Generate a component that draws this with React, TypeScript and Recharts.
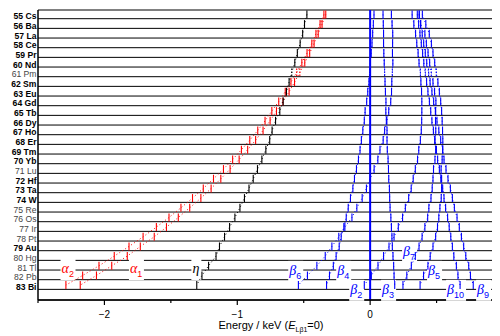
import React from 'react';
import {
  ScatterChart, Scatter, XAxis, YAxis, CartesianGrid,
  ReferenceLine, ReferenceDot,
} from 'recharts';

// 元素 (Z = 55 .. 83)
const zList = [55, 56, 57, 58, 59, 60, 61, 62, 63, 64, 65, 66, 67, 68, 69, 70, 71, 72, 73, 74, 75, 76, 77, 78, 79, 80, 81, 82, 83];
const symbols = ['Cs', 'Ba', 'La', 'Ce', 'Pr', 'Nd', 'Pm', 'Sm', 'Eu', 'Gd', 'Tb', 'Dy', 'Ho', 'Er', 'Tm', 'Yb', 'Lu', 'Hf', 'Ta', 'W', 'Re', 'Os', 'Ir', 'Pt', 'Au', 'Hg', 'Tl', 'Pb', 'Bi'];
const lightZ = [61, 71, 75, 76, 77, 78, 80, 81, 82]; // 細字のラベル

// 各ラインのエネルギー (keV, Lβ1 = 0), Cs -> Bi
const la2 = [-0.348, -0.377, -0.408, -0.439, -0.475, -0.514, -0.553, -0.596, -0.639, -0.688, -0.740, -0.791, -0.846, -0.906, -0.969, -1.035, -1.104, -1.179, -1.256, -1.337, -1.424, -1.514, -1.609, -1.709, -1.815, -1.926, -2.041, -2.164, -2.290];
const la1 = [-0.334, -0.362, -0.391, -0.422, -0.455, -0.492, -0.529, -0.569, -0.610, -0.656, -0.705, -0.753, -0.806, -0.862, -0.922, -0.986, -1.054, -1.124, -1.197, -1.274, -1.358, -1.444, -1.533, -1.625, -1.730, -1.828, -1.945, -2.060, -2.182];
const leta = [-0.476, -0.494, -0.508, -0.527, -0.548, -0.567, -0.590, -0.610, -0.630, -0.655, -0.680, -0.712, -0.738, -0.756, -0.785, -0.815, -0.848, -0.880, -0.912, -0.946, -0.980, -1.018, -1.058, -1.096, -1.134, -1.160, -1.216, -1.266, -1.305];
const lb6 = [0.160, 0.165, 0.170, 0.169, 0.168, 0.171, 0.167, 0.163, 0.161, 0.155, 0.140, 0.126, 0.109, 0.098, 0.074, 0.058, 0.030, 0.000, -0.028, -0.060, -0.100, -0.137, -0.190, -0.236, -0.288, -0.338, -0.401, -0.472, -0.540];
const lb4 = [0.029, 0.024, 0.019, 0.014, 0.008, 0.001, -0.004, -0.009, -0.018, -0.026, -0.038, -0.044, -0.055, -0.066, -0.076, -0.088, -0.103, -0.118, -0.130, -0.148, -0.165, -0.180, -0.198, -0.218, -0.233, -0.256, -0.277, -0.306, -0.328];
const lb2 = [0.316, 0.329, 0.342, 0.351, 0.361, 0.368, 0.378, 0.382, 0.387, 0.389, 0.389, 0.388, 0.385, 0.378, 0.366, 0.357, 0.340, 0.324, 0.309, 0.290, 0.265, 0.244, 0.212, 0.180, 0.142, 0.101, 0.059, 0.009, -0.044];
const lb3 = [0.097, 0.099, 0.101, 0.101, 0.103, 0.106, 0.109, 0.112, 0.115, 0.119, 0.118, 0.122, 0.127, 0.127, 0.129, 0.135, 0.138, 0.140, 0.145, 0.147, 0.150, 0.156, 0.160, 0.164, 0.167, 0.172, 0.177, 0.180, 0.185];
const lb7 = [0.370, 0.380, 0.412, 0.423, 0.436, 0.448, 0.460, 0.473, 0.485, 0.495, 0.493, 0.492, 0.494, 0.487, 0.493, 0.488, 0.477, 0.473, 0.467, 0.458, 0.442, 0.433, 0.412, 0.391, 0.368, 0.340, 0.310, 0.276, 0.247];
const lb5 = [0.393, 0.419, 0.445, 0.461, 0.473, 0.486, 0.498, 0.510, 0.521, 0.531, 0.538, 0.542, 0.545, 0.547, 0.546, 0.542, 0.534, 0.538, 0.538, 0.535, 0.525, 0.517, 0.507, 0.493, 0.473, 0.452, 0.435, 0.402, 0.376];
const lb10 = [0.355, 0.365, 0.375, 0.385, 0.395, 0.404, 0.415, 0.425, 0.435, 0.446, 0.456, 0.465, 0.476, 0.487, 0.499, 0.508, 0.521, 0.532, 0.546, 0.556, 0.568, 0.583, 0.595, 0.607, 0.619, 0.630, 0.649, 0.661, 0.677];
const lb9 = [0.369, 0.380, 0.392, 0.403, 0.415, 0.426, 0.440, 0.451, 0.465, 0.478, 0.491, 0.503, 0.517, 0.531, 0.546, 0.556, 0.571, 0.586, 0.604, 0.619, 0.634, 0.654, 0.671, 0.687, 0.704, 0.720, 0.742, 0.755, 0.776];

const xTicks = [-2.5, -2, -1.5, -1, -0.5, 0, 0.5, 1];

const RED = '#ff0000';
const BLUE = '#0000ff';
const BLACK = '#000000';
const FONT = '"Liberation Sans", Arial, sans-serif';

const series = [
  { name: 'Lα2', values: la2, color: RED },
  { name: 'Lα1', values: la1, color: RED },
  { name: 'Lη', values: leta, color: BLACK },
  { name: 'Lβ6', values: lb6, color: BLUE },
  { name: 'Lβ4', values: lb4, color: BLUE },
  { name: 'Lβ2', values: lb2, color: BLUE },
  { name: 'Lβ3', values: lb3, color: BLUE },
  { name: 'Lβ7', values: lb7, color: BLUE },
  { name: 'Lβ5', values: lb5, color: BLUE },
  { name: 'Lβ10', values: lb10, color: BLUE },
  { name: 'Lβ9', values: lb9, color: BLUE },
];

// 図中のラベル (左端のエネルギー, ベースラインの行位置)
const annotations = [
  { t: 'α', s: '2', e: -2.323, z: 81.31, c: RED, w: 13 },
  { t: 'α', s: '1', e: -1.808, z: 81.31, c: RED, w: 13 },
  { t: 'η', s: '', e: -1.338, z: 81.31, c: BLACK, w: 8 },
  { t: 'β', s: '6', e: -0.609, z: 81.5, c: BLUE, w: 13 },
  { t: 'β', s: '4', e: -0.248, z: 81.5, c: BLUE, w: 13 },
  { t: 'β', s: '2', e: -0.150, z: 83.46, c: BLUE, w: 13 },
  { t: 'β', s: '3', e: 0.090, z: 83.46, c: BLUE, w: 13 },
  { t: 'β', s: '7', e: 0.248, z: 79.55, c: BLUE, w: 13 },
  { t: 'β', s: '5', e: 0.436, z: 81.5, c: BLUE, w: 13 },
  { t: 'β', s: '10', e: 0.579, z: 83.46, c: BLUE, w: 18 },
  { t: 'β', s: '9', e: 0.805, z: 83.46, c: BLUE, w: 13 },
];

const toPoints = (values: number[]) => values.map((v, i) => ({ e: v, z: zList[i] }));

// 各ラインの縦棒マーク
const makeMark = (color: string) => (p: any) => {
  const dashed = p.payload && p.payload.z === 61;
  return (
    <line
      x1={p.cx} x2={p.cx} y1={p.cy - 4} y2={p.cy + 4}
      stroke={color} strokeWidth={1.1}
      strokeDasharray={dashed ? '1.5 1.5' : undefined}
    />
  );
};

const YTick = (props: any) => {
  const { x, y, payload } = props;
  const z = payload.value;
  const light = lightZ.includes(z);
  return (
    <text
      x={x - 1.5} y={y + 0.5} textAnchor="end" fontSize={8.6} fontFamily={FONT}
      fontWeight={light ? 'normal' : 'bold'} fill={light ? '#444' : '#000'}
    >
      {`${z} ${symbols[z - 55]}`}
    </text>
  );
};

const XTick = (props: any) => {
  const { x, y, payload } = props;
  const v = payload.value;
  const major = Number.isInteger(v);
  return (
    <g>
      <line x1={x} x2={x} y1={y} y2={y + (major ? 5 : 3)} stroke="#000" strokeWidth={1.2} />
      {major && v < 1 && (
        <text x={x} y={y + 18} textAnchor="middle" fontSize={10} fontFamily={FONT} fill="#000">
          {v < 0 ? `−${-v}` : `${v}`}
        </text>
      )}
    </g>
  );
};

const TopTick = (props: any) => {
  const { x, y } = props;
  return <line x1={x} x2={x} y1={y} y2={y + 2} stroke="#000" strokeWidth={1.2} />;
};

const XLabel = (props: any) => {
  const vb = props.viewBox || {};
  const cx = (vb.x || 0) + 233;
  return (
    <text x={cx} y={321} textAnchor="middle" fontSize={11} fontFamily={FONT} fill="#000">
      Energy / keV (<tspan fontStyle="italic">E</tspan>
      <tspan fontSize={7} dy={3}>Lβ1</tspan>
      <tspan dy={-3}>=0)</tspan>
    </text>
  );
};

const makeAnnotation = (a: typeof annotations[number]) => (p: any) => (
  <g>
    <rect x={p.cx - 1} y={p.cy - 14} width={a.w + 2} height={21} fill="#fff" />
    <text x={p.cx} y={p.cy} fill={a.c} fontFamily='"Liberation Serif", serif' fontSize={14} fontStyle="italic">
      {a.t}
      {a.s && <tspan fontSize={9} dy={4} fontStyle="normal" fontFamily={FONT}>{a.s}</tspan>}
    </text>
  </g>
);

export default function App() {
  return (
    <div style={{ width: 492, height: 328, overflow: 'hidden' }}>
      <ScatterChart width={500} height={328} margin={{ top: 2, right: 5, bottom: 0, left: 0 }}>
        <CartesianGrid vertical={false} stroke="#000" strokeWidth={1} />
        <XAxis
          type="number" dataKey="e" domain={[-2.5, 1.0]} ticks={xTicks} allowDataOverflow
          height={36} tickSize={0} tickMargin={0} tickLine={false} tick={<XTick />}
          axisLine={{ stroke: '#000', strokeWidth: 1.5 }} interval={0}
          label={<XLabel />}
        />
        <XAxis
          xAxisId="top" orientation="top" type="number" domain={[-2.5, 1.0]} ticks={xTicks}
          allowDataOverflow height={0} tickSize={0} tickMargin={0} tickLine={false}
          tick={<TopTick />} axisLine={{ stroke: '#000', strokeWidth: 1.5 }} interval={0}
        />
        <YAxis
          type="number" dataKey="z" domain={[54.1, 84.1]} ticks={zList} reversed allowDataOverflow
          width={30} tickSize={0} tickMargin={0} tickLine={false} tick={<YTick />} interval={0}
          axisLine={{ stroke: '#000', strokeWidth: 1.5 }}
        />
        {/* マーク用の軸 (行の線の少し上に描く) */}
        <YAxis yAxisId="m" type="number" dataKey="z" domain={[54.54, 84.54]} reversed allowDataOverflow hide />

        {annotations.map((a, i) => (
          <ReferenceDot key={i} x={a.e} y={a.z} r={0} shape={makeAnnotation(a)} />
        ))}

        <ReferenceLine x={0} stroke={BLUE} strokeWidth={2} />

        {series.map((s) => (
          <Scatter
            key={s.name} name={s.name} yAxisId="m" data={toPoints(s.values)}
            line={{ stroke: s.color, strokeWidth: 1, strokeDasharray: '1 2.5' }}
            lineJointType="linear" shape={makeMark(s.color)} isAnimationActive={false}
          />
        ))}
      </ScatterChart>
    </div>
  );
}
